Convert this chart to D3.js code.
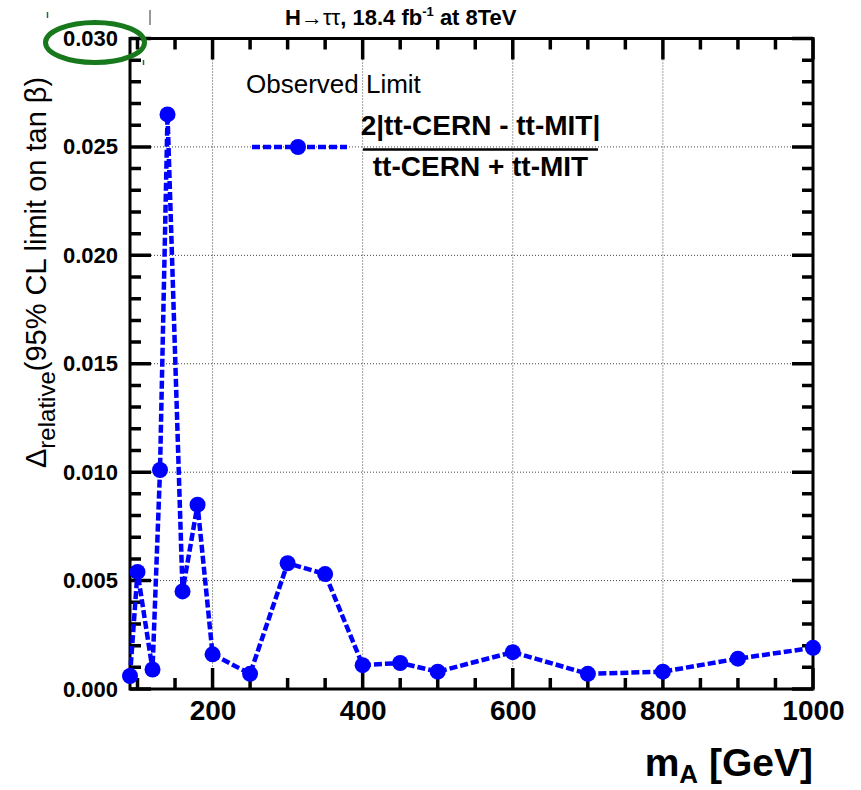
<!DOCTYPE html>
<html>
<head>
<meta charset="utf-8">
<script src="https://cdn.jsdelivr.net/npm/d3@7"></script>
<style>
  html, body { margin: 0; padding: 0; background: #fff; }
  svg { display: block; font-family: "Liberation Sans", Arial, Helvetica, sans-serif; }
</style>
</head>
<body>
<div id="chart"></div>
<script>
// Relative difference of the observed 95% CL tan(beta) limit between two analyses
const massPoints = [90, 100, 120, 130, 140, 160, 180, 200, 250, 300, 350, 400, 450, 500, 600, 700, 800, 900, 1000];
const relDelta   = [0.0006, 0.0054, 0.0009, 0.0101, 0.0265, 0.0045, 0.0085, 0.0016, 0.0007, 0.0058, 0.0053,
                    0.0011, 0.0012, 0.0008, 0.0017, 0.0007, 0.0008, 0.0014, 0.0019];

const xMajorTicks = [200, 400, 600, 800, 1000];
const xMinorTicks = [100, 150, 250, 300, 350, 450, 500, 550, 650, 700, 750, 850, 900, 950];
const yMajorTicks = [0, 0.005, 0.010, 0.015, 0.020, 0.025, 0.030];
const yMinorTicks = [0.001, 0.002, 0.003, 0.004, 0.006, 0.007, 0.008, 0.009, 0.011, 0.012, 0.013, 0.014,
                     0.016, 0.017, 0.018, 0.019, 0.021, 0.022, 0.023, 0.024, 0.026, 0.027, 0.028, 0.029];
const xGridTicks  = [200, 400, 600, 800];
const yGridTicks  = [0.005, 0.010, 0.015, 0.020, 0.025];

const W = 861, H = 790;
const frame = { left: 130, right: 813, top: 38.5, bottom: 689 };
const blue = "#0000ff";

const svg = d3.select("#chart").append("svg")
  .attr("width", W).attr("height", H);

svg.append("rect").attr("width", W).attr("height", H).attr("fill", "#fff");

const x = d3.scaleLinear().domain([90, 1000]).range([frame.left, frame.right]);
const y = d3.scaleLinear().domain([0, 0.030]).range([frame.bottom, frame.top]);

// dotted grid at the major ticks
const grid = svg.append("g").attr("stroke", "#444").attr("stroke-width", 1)
  .attr("stroke-dasharray", "1,2");
grid.selectAll("line.gx").data(xGridTicks).join("line").attr("class", "gx")
  .attr("x1", d => x(d)).attr("x2", d => x(d))
  .attr("y1", frame.top).attr("y2", frame.bottom);
grid.selectAll("line.gy").data(yGridTicks).join("line").attr("class", "gy")
  .attr("x1", frame.left).attr("x2", frame.right)
  .attr("y1", d => y(d)).attr("y2", d => y(d));

// tick labels from d3 axes
const xAx = svg.append("g").attr("transform", `translate(0,${frame.bottom})`)
  .call(d3.axisBottom(x).tickValues(xMajorTicks).tickSize(0).tickPadding(11).tickFormat(d3.format("d")));
xAx.select(".domain").remove();
xAx.selectAll(".tick text")
  .attr("fill", "#000").attr("font-size", 28).attr("font-weight", "bold")
  .attr("font-family", "Liberation Sans, Arial, sans-serif");

const yAx = svg.append("g").attr("transform", `translate(${frame.left},0)`)
  .call(d3.axisLeft(y).tickValues(yMajorTicks).tickSize(0).tickPadding(12).tickFormat(d3.format(".3f")));
yAx.select(".domain").remove();
yAx.selectAll(".tick text")
  .attr("fill", "#000").attr("font-size", 22).attr("font-weight", "bold")
  .attr("font-family", "Liberation Sans, Arial, sans-serif");

// inward tick marks on all four sides, built as one path from the scales
function tickPath() {
  const p = d3.path();
  const addX = (vals, len) => vals.forEach(v => {
    const px = x(v);
    p.moveTo(px, frame.bottom); p.lineTo(px, frame.bottom - len);
    p.moveTo(px, frame.top);    p.lineTo(px, frame.top + len);
  });
  const addY = (vals, len) => vals.forEach(v => {
    const py = y(v);
    p.moveTo(frame.left, py);  p.lineTo(frame.left + len, py);
    p.moveTo(frame.right, py); p.lineTo(frame.right - len, py);
  });
  addX(xMinorTicks, 11); addX(xMajorTicks, 21);
  addY(yMinorTicks, 11); addY(yMajorTicks, 21);
  return p.toString();
}
svg.append("path").attr("d", tickPath())
  .attr("fill", "none").attr("stroke", "#000").attr("stroke-width", 3.5);

// frame
svg.append("rect")
  .attr("x", frame.left).attr("y", frame.top)
  .attr("width", frame.right - frame.left).attr("height", frame.bottom - frame.top)
  .attr("fill", "none").attr("stroke", "#000").attr("stroke-width", 3);

// data line and markers
const pts = massPoints.map((m, i) => ({ m, v: relDelta[i] }));
const line = d3.line().x(d => x(d.m)).y(d => y(d.v));
svg.append("path").datum(pts)
  .attr("d", line).attr("fill", "none")
  .attr("stroke", blue).attr("stroke-width", 4.5).attr("stroke-dasharray", "8,3");
svg.selectAll("circle.pt").data(pts).join("circle")
  .attr("class", "pt")
  .attr("cx", d => x(d.m)).attr("cy", d => y(d.v)).attr("r", 8)
  .attr("fill", blue);

// legend
svg.append("text").attr("x", 246).attr("y", 93)
  .attr("font-size", 26).attr("fill", "#000").text("Observed Limit");
svg.append("line").attr("x1", 252).attr("x2", 347).attr("y1", 147).attr("y2", 147)
  .attr("stroke", blue).attr("stroke-width", 4.5).attr("stroke-dasharray", "8,3");
svg.append("circle").attr("cx", 298).attr("cy", 147).attr("r", 8).attr("fill", blue);
svg.append("text").attr("x", 480.5).attr("y", 135).attr("text-anchor", "middle")
  .attr("font-size", 28).attr("font-weight", "bold").text("2|tt-CERN - tt-MIT|");
svg.append("line").attr("x1", 363).attr("x2", 598).attr("y1", 149.5).attr("y2", 149.5)
  .attr("stroke", "#000").attr("stroke-width", 2.5);
svg.append("text").attr("x", 480.5).attr("y", 176).attr("text-anchor", "middle")
  .attr("font-size", 28).attr("font-weight", "bold").text("tt-CERN + tt-MIT");

// title
const title = svg.append("text").attr("x", 285).attr("y", 25)
  .attr("font-size", 22).attr("font-weight", "bold").attr("fill", "#000");
title.append("tspan").text("H");
title.append("tspan").attr("font-weight", "normal").text("→ττ");
title.append("tspan").text(", 18.4 fb");
title.append("tspan").attr("font-size", 13).attr("dy", -9).text("-1");
title.append("tspan").attr("dy", 9).text(" at 8TeV");

// axis titles
const xt = svg.append("text").attr("x", 813).attr("y", 776).attr("text-anchor", "end")
  .attr("font-size", 39).attr("font-weight", "bold").attr("fill", "#000");
xt.append("tspan").text("m");
xt.append("tspan").attr("font-size", 26).attr("dy", 7).text("A");
xt.append("tspan").attr("dy", -7).text(" [GeV]");

const yt = svg.append("text").attr("transform", "translate(46,468) rotate(-90)")
  .attr("font-size", 29).attr("fill", "#000");
yt.append("tspan").text("Δ");
yt.append("tspan").attr("font-size", 24).attr("dy", 9).text("relative");
yt.append("tspan").attr("dy", -9).text("(95% CL limit on tan β)");

// highlight ring around the top y-axis label
svg.append("ellipse").attr("cx", 95).attr("cy", 42.5).attr("rx", 49.5).attr("ry", 20)
  .attr("fill", "none").attr("stroke", "#17781c").attr("stroke-width", 5);

// small marks at the top edge
svg.append("line").attr("x1", 150).attr("x2", 150).attr("y1", 10).attr("y2", 25)
  .attr("stroke", "#999").attr("stroke-width", 2);
svg.append("line").attr("x1", 47.5).attr("x2", 47.5).attr("y1", 12).attr("y2", 18)
  .attr("stroke", "#17781c").attr("stroke-width", 1.5);
svg.append("line").attr("x1", 143.5).attr("x2", 143.5).attr("y1", 60).attr("y2", 65)
  .attr("stroke", "#17781c").attr("stroke-width", 1.5);
</script>
</body>
</html>
